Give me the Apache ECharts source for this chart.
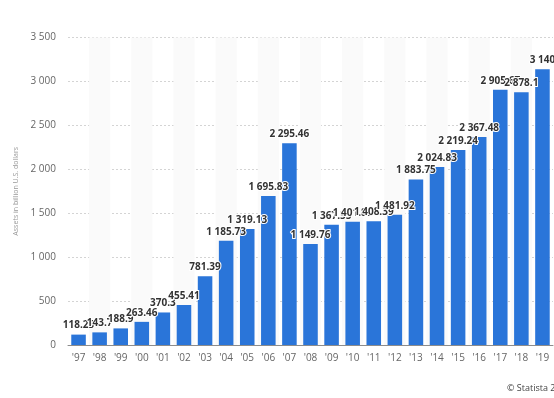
<!DOCTYPE html>
<html>
<head>
<meta charset="utf-8">
<script src="https://cdn.jsdelivr.net/npm/echarts@6/dist/echarts.min.js"></script>
<style>
html,body{margin:0;padding:0;background:#fff;}
#c{width:554px;height:398px;}
</style>
</head>
<body>
<div id="c"></div>
<script>
const categories = ["'97","'98","'99","'00","'01","'02","'03","'04","'05","'06","'07","'08","'09","'10","'11","'12","'13","'14","'15","'16","'17","'18","'19"];
const assets = [118.25,143.7,188.9,263.46,370.3,455.41,781.39,1185.73,1319.13,1695.83,2295.46,1149.76,1367.55,1401.83,1408.39,1481.92,1883.75,2024.83,2219.24,2367.48,2905.67,2878.1,3140];
const yTicks = [0,500,1000,1500,2000,2500,3000,3500];

function fmt(v){
  const s = String(v).split('.');
  const i = s[0].replace(/\B(?=(\d{3})+(?!\d))/g,' ');
  return s.length>1 ? i + '.' + s[1] : i;
}

const chart = echarts.init(document.getElementById('c'));
chart.setOption({
  animation:false,
  textStyle:{fontFamily:'Open Sans'},
  grid:{left:68,right:1,top:37.5,bottom:53},
  xAxis:{
    type:'category',
    data:categories,
    axisTick:{show:false},
    axisLine:{lineStyle:{color:'#8c8c8c',width:1}},
    axisLabel:{color:'#666',fontSize:10,margin:8,fontFamily:'Open Sans'},
    splitArea:{show:true,areaStyle:{color:['rgba(255,255,255,0)','#fafafa']}}
  },
  yAxis:{
    type:'value',
    min:yTicks[0],max:yTicks[yTicks.length-1],interval:500,
    name:'Assets in billion U.S. dollars',
    nameLocation:'middle',
    nameGap:46,
    nameTextStyle:{color:'#999',fontSize:7,fontFamily:'Open Sans'},
    axisLine:{show:false},
    axisTick:{show:false},
    axisLabel:{color:'#666',fontSize:10,margin:12,formatter:v=>fmt(v),fontFamily:'Open Sans'},
    splitLine:{lineStyle:{color:'#d4d4d4',type:[2,2],width:1}}
  },
  series:[{
    type:'bar',
    data:assets,
    barCategoryGap:'31%',
    itemStyle:{color:'#2a75d9'},
    label:{
      show:true,position:'top',distance:4,
      formatter:p=>fmt(p.value),
      color:'#333',fontWeight:'bold',fontSize:10,fontFamily:'Open Sans',
      textBorderColor:'#fff',textBorderWidth:2
    }
  }],
  graphic:[{
    type:'text',left:507,top:384,
    style:{text:'© Statista 2021',fill:'#444',fontSize:9,fontFamily:'Open Sans'}
  }]
});
</script>
</body>
</html>
